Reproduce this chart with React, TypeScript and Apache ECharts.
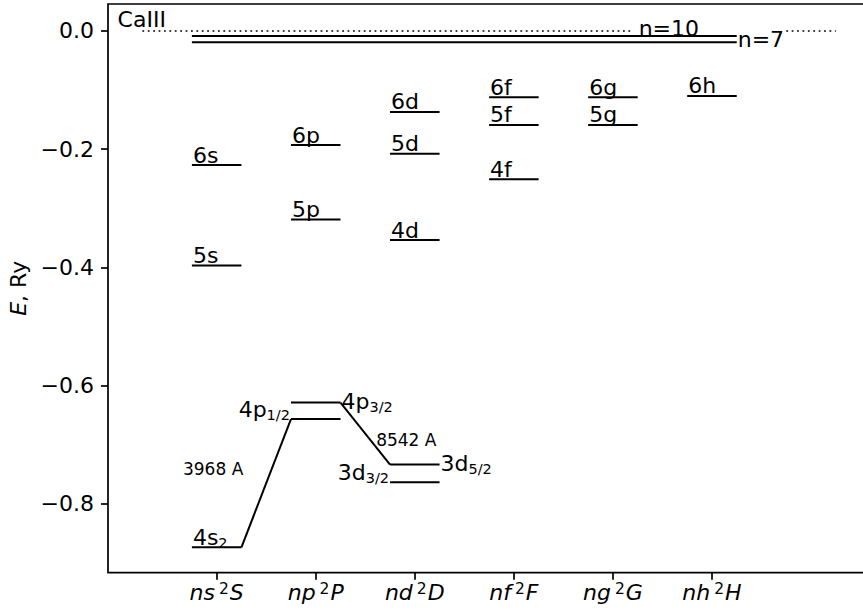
import React, { useEffect, useRef } from 'react';
import * as echarts from 'echarts';

// ---- data ----
const columnOrbitals = ['ns', 'np', 'nd', 'nf', 'ng', 'nh'];
const columnTerms = ['S', 'P', 'D', 'F', 'G', 'H'];
const columnPositions = [1, 2, 3, 4, 5, 6];

const yTicks = [0, -0.2, -0.4, -0.6, -0.8];

const levelLabels = ['5s', '6s', '5p', '6p', '4d', '5d', '6d', '4f', '5f', '6f', '5g', '6g', '6h'];
const levelColumns = [1, 1, 2, 2, 3, 3, 3, 4, 4, 4, 5, 5, 6];
const levelEnergies = [-0.397, -0.227, -0.319, -0.193, -0.354, -0.208, -0.137, -0.251, -0.159, -0.112, -0.159, -0.112, -0.11];

const fineLabels = ['4s', '4p', '4p', '3d', '3d'];
const fineSubscripts = ['2', '1/2', '3/2', '3/2', '5/2'];
const fineColumns = [1, 2, 2, 3, 3];
const fineEnergies = [-0.874, -0.657, -0.629, -0.764, -0.734];
const fineLabelSides = ['above', 'leftAbove', 'right', 'leftAbove', 'right'];

const transitionNames = ['3968 A', '8542 A'];
const transitionFrom = [0, 2];
const transitionTo = [1, 4];
const transitionLabelX = [0.66, 2.61];
const transitionLabelE = [-0.741, -0.693];

const rydbergLabels = ['n=10', 'n=7'];
const rydbergEnergies = [-0.0085, -0.0192];
const rydbergStart = [0.75, 0.75];
const rydbergEnd = [6.25, 6.25];
const rydbergLabelX = [5.25, 6.25];
const rydbergLabelSides = ['above', 'right'];

const limitLabel = 'CaIII';
const limitEnergy = 0;
const limitLabelX = 0;
const limitSegStart = [0.25, 6.75];
const limitSegEnd = [5.2, 7.25];

// ---- style ----
const FONT = '"DejaVu Sans", "Liberation Sans", sans-serif';
const FS = 22;
const FS_SUB = 14.5;
const FS_SMALL = 17;
const HALF = 0.25;
const LW = 2;

const fmtY = (v: number) => (Math.abs(v) < 1e-9 ? '0.0' : '\u2212' + Math.abs(v).toFixed(1));

export default function App() {
  const ref = useRef<HTMLDivElement>(null);
  useEffect(() => {
    if (!ref.current) return;
    const chart = echarts.init(ref.current, undefined, { renderer: 'svg' });

    const subRich = {
      m: { fontSize: FS, fontFamily: FONT, color: '#000', verticalAlign: 'top' },
      s: { fontSize: FS_SUB, fontFamily: FONT, color: '#000', verticalAlign: 'bottom', padding: [9, 0, 0, 0] },
    };

    const option: any = {
      animation: false,
      backgroundColor: '#fff',
      grid: {
        show: true,
        left: 108,
        right: -4,
        top: 4,
        bottom: 43.3,
        containLabel: false,
        outerBoundsMode: 'none',
        borderColor: '#000',
        borderWidth: 1.7,
        backgroundColor: 'transparent',
      },
      xAxis: {
        type: 'value',
        min: -0.097,
        max: 7.565,
        splitLine: { show: false },
        axisLine: { show: false, onZero: false },
        axisTick: { show: true, inside: false, length: 7, lineStyle: { color: '#000', width: 1.7 }, customValues: columnPositions },
        axisLabel: {
          customValues: columnPositions,
          margin: 8,
          formatter: (v: number) => {
            const i = columnPositions.indexOf(Math.round(v));
            if (i < 0) return '';
            return `{i|${columnOrbitals[i]}}{sup|2}{i|${columnTerms[i]}}`;
          },
          rich: {
            i: { fontSize: FS, fontStyle: 'italic', fontFamily: FONT, color: '#000', verticalAlign: 'bottom' },
            sup: { fontSize: FS_SUB + 1, fontFamily: FONT, color: '#000', verticalAlign: 'top', padding: [0, 1, 7, 4] },
          },
        },
      },
      yAxis: {
        type: 'value',
        min: -0.917,
        max: 0.0457,
        splitLine: { show: false },
        axisLine: { show: false, onZero: false },
        axisTick: { show: true, inside: false, length: 7, lineStyle: { color: '#000', width: 1.7 }, customValues: yTicks },
        axisLabel: {
          customValues: yTicks,
          margin: 14,
          fontSize: FS,
          fontFamily: FONT,
          color: '#000',
          formatter: fmtY,
        },
        name: '{i|E}, Ry',
        nameLocation: 'middle',
        nameRotate: 90,
        nameGap: 78,
        nameTextStyle: {
          fontSize: FS,
          fontFamily: FONT,
          color: '#000',
          rich: {
            i: { fontSize: FS, fontStyle: 'italic', fontFamily: FONT, color: '#000' },
          },
        },
      },
      series: [
        // ionization limit (dotted)
        {
          type: 'custom',
          coordinateSystem: 'cartesian2d',
          clip: false,
          data: limitSegStart.map((s, i) => [s, limitEnergy, limitSegEnd[i]]),
          renderItem: (params: any, api: any) => {
            const i = params.dataIndex;
            const p1 = api.coord([limitSegStart[i], limitEnergy]);
            const p2 = api.coord([limitSegEnd[i], limitEnergy]);
            return {
              type: 'line',
              shape: { x1: p1[0], y1: p1[1], x2: p2[0], y2: p2[1] },
              style: { stroke: '#000', lineWidth: 1.7, lineDash: [1.8, 3.6] },
            };
          },
          z: 2,
        },
        // limit label
        {
          type: 'custom',
          coordinateSystem: 'cartesian2d',
          clip: false,
          data: [[limitLabelX, limitEnergy]],
          renderItem: (params: any, api: any) => {
            const p = api.coord([limitLabelX, limitEnergy]);
            return {
              type: 'text',
              x: p[0],
              y: p[1],
              style: { text: limitLabel, fontSize: FS, fontFamily: FONT, fill: '#000', align: 'left', verticalAlign: 'bottom' },
            };
          },
          z: 3,
        },
        // Rydberg series limits (n=10, n=7)
        {
          type: 'custom',
          coordinateSystem: 'cartesian2d',
          clip: false,
          data: rydbergEnergies.map((e, i) => [rydbergStart[i], e]),
          renderItem: (params: any, api: any) => {
            const i = params.dataIndex;
            const e = rydbergEnergies[i];
            const p1 = api.coord([rydbergStart[i], e]);
            const p2 = api.coord([rydbergEnd[i], e]);
            const pl = api.coord([rydbergLabelX[i], e]);
            const above = rydbergLabelSides[i] === 'above';
            return {
              type: 'group',
              children: [
                { type: 'line', shape: { x1: p1[0], y1: p1[1], x2: p2[0], y2: p2[1] }, style: { stroke: '#000', lineWidth: LW } },
                {
                  type: 'text',
                  x: pl[0] + 1,
                  y: above ? pl[1] + 3 : pl[1] - 3,
                  style: {
                    text: rydbergLabels[i],
                    fontSize: FS,
                    fontFamily: FONT,
                    fill: '#000',
                    align: 'left',
                    verticalAlign: above ? 'bottom' : 'middle',
                  },
                },
              ],
            };
          },
          z: 3,
        },
        // plain levels
        {
          type: 'custom',
          coordinateSystem: 'cartesian2d',
          clip: false,
          data: levelColumns.map((c, i) => [c, levelEnergies[i]]),
          renderItem: (params: any, api: any) => {
            const i = params.dataIndex;
            const c = levelColumns[i];
            const e = levelEnergies[i];
            const p1 = api.coord([c - HALF, e]);
            const p2 = api.coord([c + HALF, e]);
            return {
              type: 'group',
              children: [
                { type: 'line', shape: { x1: p1[0], y1: p1[1], x2: p2[0], y2: p2[1] }, style: { stroke: '#000', lineWidth: LW } },
                {
                  type: 'text',
                  x: p1[0] + 1,
                  y: p1[1] + 1,
                  style: { text: levelLabels[i], fontSize: FS, fontFamily: FONT, fill: '#000', align: 'left', verticalAlign: 'bottom' },
                },
              ],
            };
          },
          z: 3,
        },
        // fine-structure levels
        {
          type: 'custom',
          coordinateSystem: 'cartesian2d',
          clip: false,
          data: fineColumns.map((c, i) => [c, fineEnergies[i]]),
          renderItem: (params: any, api: any) => {
            const i = params.dataIndex;
            const c = fineColumns[i];
            const e = fineEnergies[i];
            const p1 = api.coord([c - HALF, e]);
            const p2 = api.coord([c + HALF, e]);
            const side = fineLabelSides[i];
            let tx = p1[0] + 1;
            let ty = p1[1] + 3;
            let align = 'left';
            let va = 'bottom';
            if (side === 'leftAbove') {
              tx = p1[0] - 1;
              align = 'right';
              ty = p1[1] + 3;
            } else if (side === 'right') {
              tx = p2[0] + 1;
              ty = p2[1];
              va = 'middle';
            }
            return {
              type: 'group',
              children: [
                { type: 'line', shape: { x1: p1[0], y1: p1[1], x2: p2[0], y2: p2[1] }, style: { stroke: '#000', lineWidth: LW } },
                {
                  type: 'text',
                  x: tx,
                  y: ty,
                  style: {
                    text: `{m|${fineLabels[i]}}{s|${fineSubscripts[i]}}`,
                    rich: subRich,
                    fontSize: FS,
                    fontFamily: FONT,
                    fill: '#000',
                    align,
                    verticalAlign: va,
                  },
                },
              ],
            };
          },
          z: 3,
        },
        // transitions
        {
          type: 'custom',
          coordinateSystem: 'cartesian2d',
          clip: false,
          data: transitionFrom.map((f) => [fineColumns[f], fineEnergies[f]]),
          renderItem: (params: any, api: any) => {
            const i = params.dataIndex;
            const f = transitionFrom[i];
            const t = transitionTo[i];
            const p1 = api.coord([fineColumns[f] + HALF, fineEnergies[f]]);
            const p2 = api.coord([fineColumns[t] - HALF, fineEnergies[t]]);
            const pl = api.coord([transitionLabelX[i], transitionLabelE[i]]);
            return {
              type: 'group',
              children: [
                { type: 'line', shape: { x1: p1[0], y1: p1[1], x2: p2[0], y2: p2[1] }, style: { stroke: '#000', lineWidth: LW } },
                {
                  type: 'text',
                  x: pl[0],
                  y: pl[1],
                  style: { text: transitionNames[i], fontSize: FS_SMALL, fontFamily: FONT, fill: '#000', align: 'left', verticalAlign: 'middle' },
                },
              ],
            };
          },
          z: 3,
        },
      ],
    };

    chart.setOption(option);
    return () => chart.dispose();
  }, []);

  return <div ref={ref} style={{ position: 'absolute', left: 0, top: 0, width: 863, height: 616, background: '#fff' }} />;
}
